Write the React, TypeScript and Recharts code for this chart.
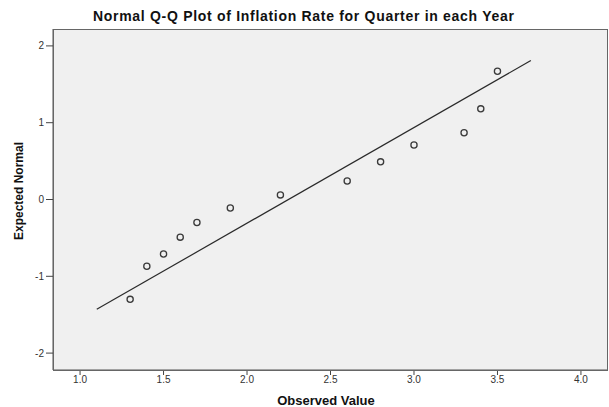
import React from 'react';
import { ScatterChart, Scatter, XAxis, YAxis, CartesianGrid } from 'recharts';

// observed inflation rate per quarter
const observed = [1.3, 1.4, 1.5, 1.6, 1.7, 1.9, 2.2, 2.6, 2.8, 3.0, 3.3, 3.4, 3.5];
// expected normal quantiles
const expected = [-1.3, -0.87, -0.71, -0.49, -0.3, -0.11, 0.06, 0.24, 0.49, 0.71, 0.87, 1.18, 1.67];

// endpoints of the reference line
const lineX = [1.1, 3.7];
const lineY = [-1.43, 1.81];

const xTicks = [1.0, 1.5, 2.0, 2.5, 3.0, 3.5, 4.0];
const yTicks = [-2, -1, 0, 1, 2];

const points = observed.map((x, i) => ({ x, y: expected[i] }));
const lineData = lineX.map((x, i) => ({ x, y: lineY[i] }));

const font = '"Liberation Sans", Arial, sans-serif';

const Ring = (props: any) => {
  const { cx, cy } = props;
  return <circle cx={cx} cy={cy} r={3.1} fill="none" stroke="#3a3a3a" strokeWidth={1.3} />;
};

const App: React.FC = () => {
  return (
    <div style={{ position: 'absolute', left: 0, top: 0, width: 609, height: 407, background: '#fff', fontFamily: font }}>
      <div style={{ position: 'absolute', left: 93, top: 8, lineHeight: '16px', fontWeight: 700, fontSize: 14, letterSpacing: 0.7, color: '#111', whiteSpace: 'nowrap' }}>
        Normal Q-Q Plot of Inflation Rate for Quarter in each Year
      </div>
      <div style={{ position: 'absolute', left: 18.5, top: 191, transform: 'translate(-50%, -50%) rotate(-90deg)', fontWeight: 700, fontSize: 12, color: '#111', whiteSpace: 'nowrap' }}>
        Expected Normal
      </div>
      <div style={{ position: 'absolute', left: 226, width: 200, top: 393, lineHeight: '15px', textAlign: 'center', fontWeight: 700, fontSize: 13, color: '#111', whiteSpace: 'nowrap' }}>
        Observed Value
      </div>
      <ScatterChart width={609} height={407} margin={{ top: 29, right: 2, left: 0, bottom: 0 }}>
        <CartesianGrid horizontal={false} vertical={false} fill="#f0f0f0" />
        <XAxis
          type="number"
          dataKey="x"
          domain={[0.838, 4.156]}
          ticks={xTicks}
          allowDataOverflow
          height={37}
          tickFormatter={(v: number) => v.toFixed(1)}
          tick={{ fontFamily: font, fontSize: 10, fill: '#333' }}
          tickSize={5}
          tickMargin={1}
          axisLine={{ stroke: '#555' }}
          tickLine={{ stroke: '#444' }}
        />
        <YAxis
          type="number"
          dataKey="y"
          domain={[-2.22, 2.22]}
          ticks={yTicks}
          allowDataOverflow
          width={53}
          tick={{ fontFamily: font, fontSize: 10, fill: '#333' }}
          tickSize={7}
          tickMargin={2}
          axisLine={{ stroke: '#555' }}
          tickLine={{ stroke: '#444' }}
        />
        <Scatter data={lineData} line={{ stroke: '#2a2a2a', strokeWidth: 1.2 }} shape={() => <g />} isAnimationActive={false} />
        <Scatter data={points} shape={Ring} isAnimationActive={false} />
      </ScatterChart>
      <div style={{ position: 'absolute', left: 52.5, top: 29, width: 553, height: 340, border: '1px solid #666', pointerEvents: 'none' }} />
    </div>
  );
};

export default App;
